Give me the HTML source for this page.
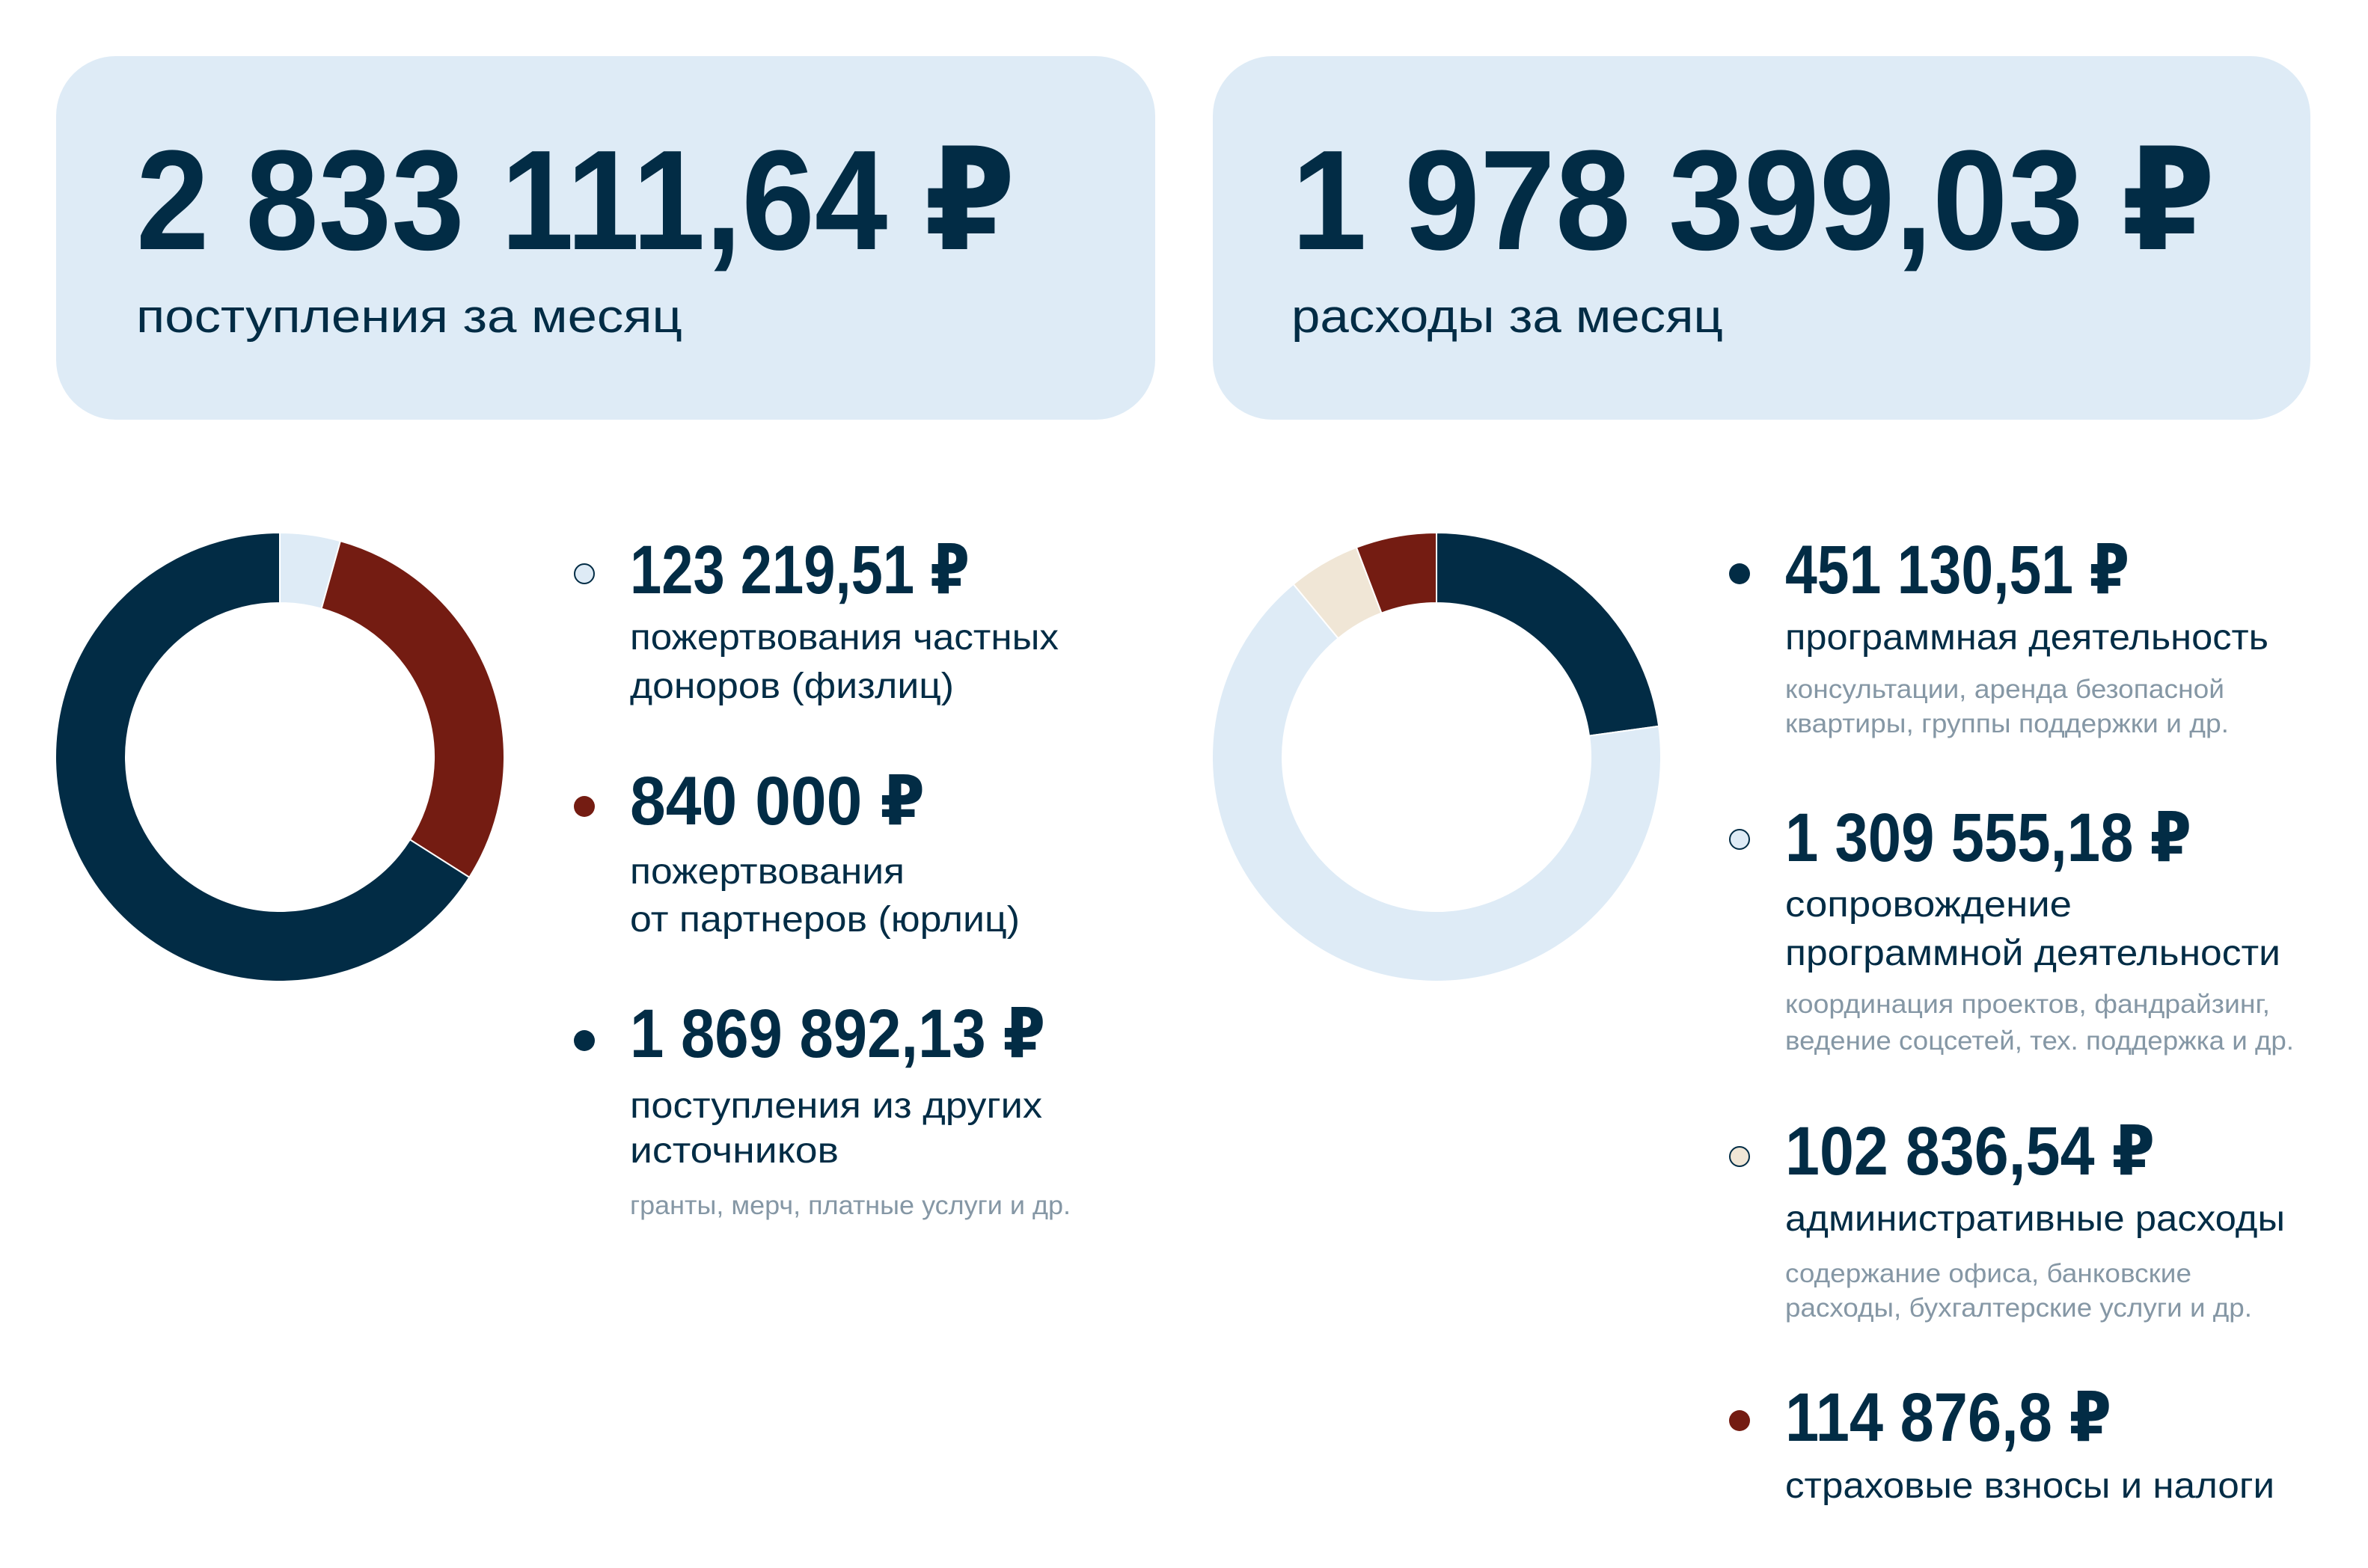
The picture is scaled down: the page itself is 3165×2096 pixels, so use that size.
<!DOCTYPE html>
<html><head><meta charset="utf-8">
<style>
html,body{margin:0;padding:0;background:#fff;}
svg{display:block;}
text{font-family:"Liberation Sans","DejaVu Sans",sans-serif;fill:#022c45;}
.big{font-weight:bold;font-size:190px;}
.sub{font-size:62px;}
.num{font-weight:bold;font-size:92px;}
.lbl{font-size:48px;}
.note{font-size:35px;fill:#8597a5;}
</style></head>
<body>
<svg id="chart" width="3165" height="2096" viewBox="0 0 3165 2096" xmlns="http://www.w3.org/2000/svg">
  <rect x="75" y="75" width="1469" height="486" rx="80" fill="#deebf6"/>
  <rect x="1621" y="75" width="1467" height="486" rx="80" fill="#deebf6"/>
  <text class="big" x="182" y="333" textLength="1175" lengthAdjust="spacingAndGlyphs">2 833 111,64 ₽</text>
  <text class="sub" x="182" y="444" textLength="730" lengthAdjust="spacingAndGlyphs">поступления за месяц</text>
  <text class="big" x="1726" y="333" textLength="1235" lengthAdjust="spacingAndGlyphs">1 978 399,03 ₽</text>
  <text class="sub" x="1726" y="444" textLength="577" lengthAdjust="spacingAndGlyphs">расходы за месяц</text>

  <g id="donut-income"></g>
  <g id="donut-expense"></g>

  <!-- income legend -->
  <g>
    <circle cx="781" cy="767" r="13" fill="#deebf6" stroke="#022c45" stroke-width="2"/>
    <text class="num" x="842" y="793" textLength="454" lengthAdjust="spacingAndGlyphs">123 219,51 ₽</text>
    <text class="lbl" x="842" y="868" textLength="573" lengthAdjust="spacingAndGlyphs">пожертвования частных</text>
    <text class="lbl" x="842" y="933" textLength="433" lengthAdjust="spacingAndGlyphs">доноров (физлиц)</text>

    <circle cx="781" cy="1078" r="14" fill="#741c12"/>
    <text class="num" x="842" y="1102" textLength="394" lengthAdjust="spacingAndGlyphs">840 000 ₽</text>
    <text class="lbl" x="842" y="1181" textLength="367" lengthAdjust="spacingAndGlyphs">пожертвования</text>
    <text class="lbl" x="842" y="1245" textLength="521" lengthAdjust="spacingAndGlyphs">от партнеров (юрлиц)</text>

    <circle cx="781" cy="1391" r="14" fill="#022c45"/>
    <text class="num" x="842" y="1413" textLength="555" lengthAdjust="spacingAndGlyphs">1 869 892,13 ₽</text>
    <text class="lbl" x="842" y="1494" textLength="551" lengthAdjust="spacingAndGlyphs">поступления из других</text>
    <text class="lbl" x="842" y="1554" textLength="279" lengthAdjust="spacingAndGlyphs">источников</text>
    <text class="note" x="842" y="1623" textLength="589" lengthAdjust="spacingAndGlyphs">гранты, мерч, платные услуги и др.</text>
  </g>

  <!-- expense legend -->
  <g>
    <circle cx="2325" cy="767" r="14" fill="#022c45"/>
    <text class="num" x="2386" y="793" textLength="460" lengthAdjust="spacingAndGlyphs">451 130,51 ₽</text>
    <text class="lbl" x="2386" y="868" textLength="646" lengthAdjust="spacingAndGlyphs">программная деятельность</text>
    <text class="note" x="2386" y="933" textLength="587" lengthAdjust="spacingAndGlyphs">консультации, аренда безопасной</text>
    <text class="note" x="2386" y="979" textLength="593" lengthAdjust="spacingAndGlyphs">квартиры, группы поддержки и др.</text>

    <circle cx="2325" cy="1122" r="13" fill="#deebf6" stroke="#022c45" stroke-width="2"/>
    <text class="num" x="2386" y="1151" textLength="543" lengthAdjust="spacingAndGlyphs">1 309 555,18 ₽</text>
    <text class="lbl" x="2386" y="1225" textLength="383" lengthAdjust="spacingAndGlyphs">сопровождение</text>
    <text class="lbl" x="2386" y="1290" textLength="662" lengthAdjust="spacingAndGlyphs">программной деятельности</text>
    <text class="note" x="2386" y="1354" textLength="648" lengthAdjust="spacingAndGlyphs">координация проектов, фандрайзинг,</text>
    <text class="note" x="2386" y="1403" textLength="680" lengthAdjust="spacingAndGlyphs">ведение соцсетей, тех. поддержка и др.</text>

    <circle cx="2325" cy="1546" r="13" fill="#f0e6d6" stroke="#022c45" stroke-width="2"/>
    <text class="num" x="2386" y="1570" textLength="494" lengthAdjust="spacingAndGlyphs">102 836,54 ₽</text>
    <text class="lbl" x="2386" y="1645" textLength="668" lengthAdjust="spacingAndGlyphs">административные расходы</text>
    <text class="note" x="2386" y="1714" textLength="543" lengthAdjust="spacingAndGlyphs">содержание офиса, банковские</text>
    <text class="note" x="2386" y="1760" textLength="624" lengthAdjust="spacingAndGlyphs">расходы, бухгалтерские услуги и др.</text>

    <circle cx="2325" cy="1899" r="14" fill="#741c12"/>
    <text class="num" x="2386" y="1926" textLength="436" lengthAdjust="spacingAndGlyphs">114 876,8 ₽</text>
    <text class="lbl" x="2386" y="2002" textLength="654" lengthAdjust="spacingAndGlyphs">страховые взносы и налоги</text>
  </g>
</svg>
<script>
const incomeCategories = ["private", "partners", "other"];
const incomeValues = [123219.51, 840000, 1869892.13];
const incomeColors = ["#deebf6", "#741c12", "#022c45"];
const expenseCategories = ["program", "support", "admin", "taxes"];
const expenseValues = [451130.51, 1309555.18, 102836.54, 114876.8];
const expenseColors = ["#022c45", "#deebf6", "#f0e6d6", "#741c12"];

const NS = "http://www.w3.org/2000/svg";
function pt(cx, cy, r, a) { return [cx + r * Math.sin(a), cy - r * Math.cos(a)]; }
function drawDonut(gId, cats, vals, cols, cx, cy, ro, ri) {
  const g = document.getElementById(gId);
  const total = vals.reduce((s, v) => s + v, 0);
  let a0 = 0;
  vals.forEach((v, i) => {
    const a1 = a0 + v / total * Math.PI * 2;
    const large = (a1 - a0) > Math.PI ? 1 : 0;
    const p1 = pt(cx, cy, ro, a0), p2 = pt(cx, cy, ro, a1);
    const p3 = pt(cx, cy, ri, a1), p4 = pt(cx, cy, ri, a0);
    const d = `M${p1[0]},${p1[1]} A${ro},${ro} 0 ${large} 1 ${p2[0]},${p2[1]} L${p3[0]},${p3[1]} A${ri},${ri} 0 ${large} 0 ${p4[0]},${p4[1]} Z`;
    const path = document.createElementNS(NS, "path");
    path.setAttribute("d", d);
    path.setAttribute("fill", cols[i]);
    path.setAttribute("stroke", "#ffffff");
    path.setAttribute("stroke-width", "2");
    
    
    g.appendChild(path);
    a0 = a1;
  });
}
drawDonut("donut-income", incomeCategories, incomeValues, incomeColors, 374, 1012, 300, 206);
drawDonut("donut-expense", expenseCategories, expenseValues, expenseColors, 1920, 1012, 300, 206);
</script>
</body></html>
